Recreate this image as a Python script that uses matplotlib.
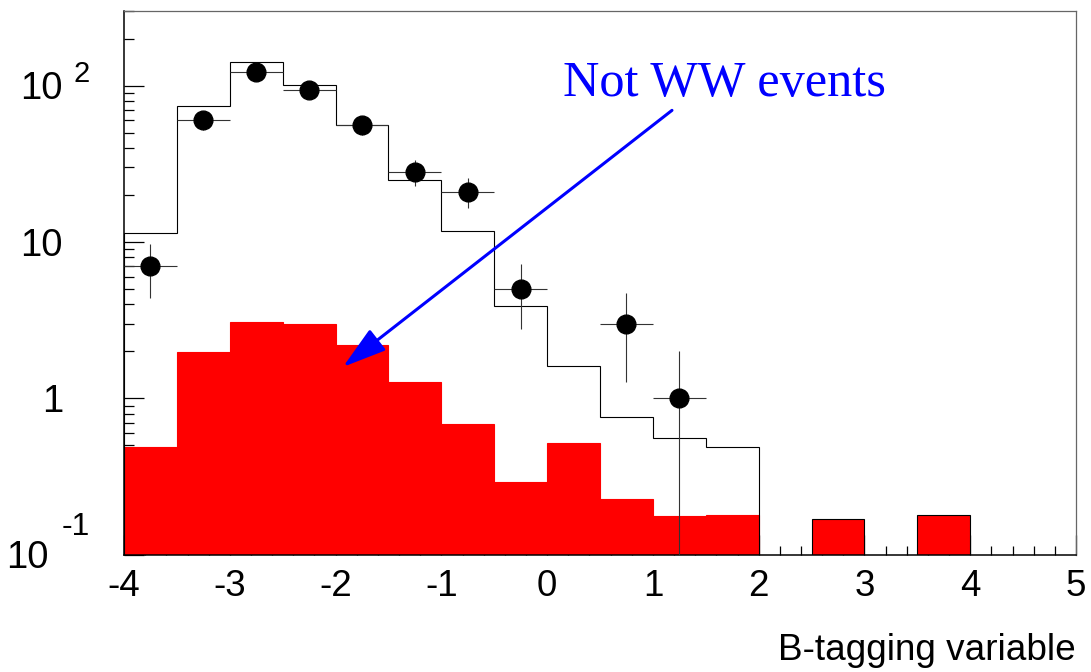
import numpy as np
import matplotlib
matplotlib.use("Agg")
from matplotlib import pyplot as plt
from matplotlib.ticker import MultipleLocator, LogLocator, NullFormatter

# ---------- histogram contents, 0.5 wide bins from -4 to 5 ----------
edges = np.arange(-4.0, 5.01, 0.5)
centers = 0.5 * (edges[:-1] + edges[1:])

# simulated total (black outline)
mc_total = [11.4, 74, 141, 101, 56.4, 24.8, 11.8, 3.9, 1.61, 0.76, 0.56, 0.49,
            0, 0, 0, 0, 0, 0]
# not-WW background (red fill)
not_ww = [0.49, 1.98, 3.1, 2.98, 2.18, 1.27, 0.69, 0.29, 0.52, 0.226, 0.177, 0.181,
          0, 0.169, 0, 0.179, 0, 0]
# data counts
data = [7, 60, 122, 94, 56, 28, 21, 5, 0, 3, 1, 0, 0, 0, 0, 0, 0, 0]

y_lo, y_hi = 0.1, 300

mc_total = np.array(mc_total)
not_ww = np.array(not_ww)
data = np.array(data, dtype=float)

plt.rcParams['font.family'] = ['Liberation Sans', 'DejaVu Sans']
plt.rcParams['axes.unicode_minus'] = False

fig = plt.figure(figsize=(10.91, 6.72), dpi=100)
ax = fig.add_axes([0.1137, 0.1744, 0.8726, 0.8092])
ax.set_yscale('log')
ax.set_xlim(edges[0], edges[-1])
ax.set_ylim(y_lo, y_hi)

# red histogram; isolated bins get a black outline
edge_cols = ['black' if m == 0 else 'red' for m in mc_total]
ax.bar(centers, not_ww, width=0.5, color='red', edgecolor=edge_cols,
       linewidth=0.8, zorder=2)

# total prediction as a step outline
ax.stairs(mc_total, edges, baseline=y_lo, color='black', linewidth=0.8, zorder=3)

# data points with sqrt(N) errors
sel = data > 0
ax.errorbar(centers[sel], data[sel], yerr=np.sqrt(data[sel]), xerr=0.25,
            fmt='o', color='black', markersize=13.5, ecolor='#333333',
            elinewidth=0.8, capsize=0, zorder=4)

# arrow and label
ax.annotate('', xy=(-1.93, 1.59), xytext=(1.18, 69.5),
            arrowprops=dict(arrowstyle='-|>,head_length=1.0,head_width=0.3',
                            mutation_scale=27, color='blue', lw=2.2,
                            shrinkA=0, shrinkB=0), zorder=5)
ax.text(0.15, 85.5, 'Not WW events', color='blue', fontsize=36.3,
        family=['Liberation Serif', 'DejaVu Serif'], va='baseline', ha='left')

# axes frame and ticks
for side in ['top', 'right']:
    ax.spines[side].set_color('#666666')
    ax.spines[side].set_linewidth(0.9)
for side in ['left', 'bottom']:
    ax.spines[side].set_linewidth(1.1)

ax.xaxis.set_major_locator(MultipleLocator(1))
ax.xaxis.set_minor_locator(MultipleLocator(0.2))
ax.yaxis.set_major_locator(LogLocator(base=10))
ax.yaxis.set_minor_locator(LogLocator(base=10, subs=np.arange(2, 10)))
ax.yaxis.set_major_formatter(NullFormatter())
ax.yaxis.set_minor_formatter(NullFormatter())

ax.tick_params(which='both', direction='in', top=False, right=False)
ax.tick_params(axis='y', which='major', length=14.4, width=0.9)
ax.tick_params(axis='y', which='minor', length=7.2, width=0.9)
ax.tick_params(axis='x', which='major', length=14.4, width=0.9,
               labelsize=26.5, pad=10)
ax.tick_params(axis='x', which='minor', length=6.5, width=0.9)

# log axis labels written as "10 ^n"
ylabels = [(100, '10', '2', -51, 4), (10, '10', None, 0, 0),
           (1, '1', None, 0, 0), (0.1, '10', '-1', -62, 20)]
for val, base, expo, ex_dx, ex_dy in ylabels:
    dx = -75 if expo == '-1' else -61
    ax.annotate(base, xy=(0, val), xycoords=('axes fraction', 'data'),
                xytext=(dx, -13.5), textcoords='offset pixels',
                ha='right', va='baseline', fontsize=27.5, annotation_clip=False)
    if expo:
        ax.annotate(expo, xy=(0, val), xycoords=('axes fraction', 'data'),
                    xytext=(ex_dx, ex_dy), textcoords='offset pixels',
                    ha='left', va='baseline', fontsize=21 if expo == '2' else 23,
                    annotation_clip=False)

fig.text(1076 / 1091, (672 - 660) / 672, 'B-tagging variable', fontsize=26.6,
         ha='right', va='baseline')

fig.savefig('out.png', dpi=100)
